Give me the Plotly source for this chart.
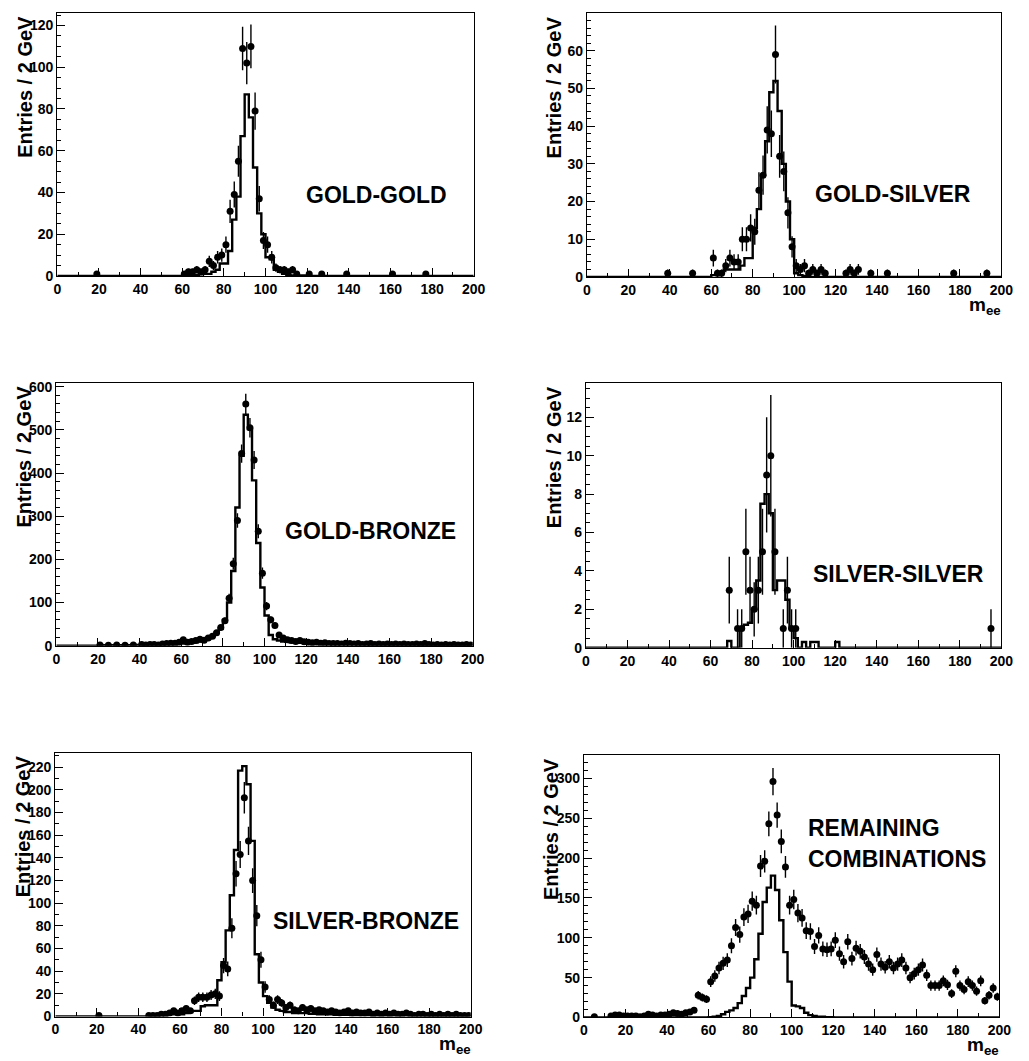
import math
import plotly.graph_objects as go

W, H = 1029, 1061
PAGE_OFFSET = 8  # default body margin of the html page

# 2 GeV bins from 0 to 200 GeV
bin_edges = list(range(0, 202, 2))
bin_centers = [e + 1 for e in bin_edges[:-1]]

# ---------------- GOLD-GOLD ----------------
gg_data = [
    0, 0, 0, 0, 0, 0, 0, 0, 0, 1,
    0, 0, 0, 0, 0, 0, 0, 0, 0, 0,
    0, 0, 0, 0, 0, 0, 0, 0, 0, 0,
    1, 2, 2, 3, 2, 3, 7, 5, 9, 10,
    15, 31, 39, 55, 109, 102, 110, 79, 37, 17,
    15, 9, 4, 3, 3, 2, 3, 1, 0, 0,
    1, 0, 0, 1, 0, 0, 0, 0, 0, 1,
    0, 0, 0, 0, 0, 0, 0, 0, 0, 0,
    1, 0, 0, 0, 0, 0, 0, 0, 1, 0,
    0, 0, 0, 0, 0, 0, 0, 0, 0, 0,
]
gg_mc = [
    0, 0, 0, 0, 0, 0, 0, 0, 0, 0,
    0, 0, 0, 0, 0, 0, 0, 0, 0, 0,
    0, 0, 0, 0, 0, 0, 0, 0, 0, 0,
    0.3, 0.3, 0.5, 0.5, 0.8, 1, 1, 2, 3, 6,
    6, 12, 27, 38, 67, 87, 76, 52, 30, 20,
    9, 8, 3, 2, 1, 0.5, 0.3, 0.3, 0.2, 0.2,
    0, 0, 0, 0, 0, 0, 0, 0, 0, 0,
    0, 0, 0, 0, 0, 0, 0, 0, 0, 0,
    0, 0, 0, 0, 0, 0, 0, 0, 0, 0,
    0, 0, 0, 0, 0, 0, 0, 0, 0, 0,
]

# ---------------- GOLD-SILVER ----------------
gs_data = [
    0, 0, 0, 0, 0, 0, 0, 0, 0, 0,
    0, 0, 0, 0, 0, 0, 0, 0, 0, 1,
    0, 0, 0, 0, 0, 1, 0, 0, 0, 0,
    5, 1, 1, 3, 5, 4, 4, 10, 10, 13,
    12, 23, 27, 39, 38, 59, 32, 28, 17, 8,
    3, 2, 3, 1, 2, 1, 2, 1, 0, 0,
    0, 0, 1, 2, 1, 2, 0, 0, 1, 0,
    0, 0, 1, 0, 0, 0, 0, 0, 0, 0,
    0, 0, 0, 0, 0, 0, 0, 0, 1, 0,
    0, 0, 0, 0, 0, 0, 1, 0, 0, 0,
]
gs_mc = [
    0, 0, 0, 0, 0, 0, 0, 0, 0, 0,
    0, 0, 0, 0, 0, 0, 0, 0, 0, 0,
    0, 0, 0, 0, 0, 0, 0, 0, 0, 0,
    0.5, 0.5, 1, 2, 2, 2, 2, 3, 5, 5,
    13, 18, 27, 36, 49, 52, 44, 30, 20, 10,
    1, 0.5, 0.3, 0, 0, 0, 0, 0, 0, 0,
    0, 0, 0, 0, 0, 0, 0, 0, 0, 0,
    0, 0, 0, 0, 0, 0, 0, 0, 0, 0,
    0, 0, 0, 0, 0, 0, 0, 0, 0, 0,
    0, 0, 0, 0, 0, 0, 0, 0, 0, 0,
]

# ---------------- GOLD-BRONZE ----------------
gb_data = [
    0, 0, 0, 0, 0, 0, 0, 0, 0, 0,
    2, 0, 1, 0, 2, 0, 1, 0, 2, 0,
    3, 2, 3, 3, 2, 4, 5, 6, 6, 8,
    14, 8, 10, 12, 15, 13, 18, 22, 30, 42,
    58, 110, 190, 290, 445, 560, 505, 430, 265, 168,
    92, 60, 47, 25, 18, 14, 12, 10, 12, 9,
    8, 7, 8, 6, 7, 5, 5, 5, 4, 6,
    5, 4, 5, 3, 4, 5, 3, 4, 3, 4,
    3, 4, 3, 4, 3, 3, 4, 3, 5, 3,
    2, 3, 2, 3, 2, 3, 2, 2, 3, 2,
]
gb_mc = [
    0, 0, 0, 0, 0, 0, 0, 0, 0, 0,
    1, 1, 1, 1, 1, 1.5, 1.5, 1.5, 2, 2,
    2, 2, 2.5, 2.5, 3, 3, 3.5, 4, 4, 5,
    5, 6, 7, 8, 10, 13, 17, 22, 30, 40,
    60, 100, 173, 320, 440, 535, 502, 383, 238, 135,
    70, 25, 15, 12, 10, 9, 8, 8, 7, 7,
    6, 6, 5, 5, 5, 5, 4, 4, 4, 4,
    4, 4, 3.5, 3.5, 3.5, 3, 3, 3, 3, 3,
    3, 3, 2.5, 2.5, 2.5, 2.5, 2.5, 2, 2, 2,
    2, 2, 2, 2, 2, 2, 2, 2, 2, 2,
]

# ---------------- SILVER-SILVER ----------------
ss_data = [
    0, 0, 0, 0, 0, 0, 0, 0, 0, 0,
    0, 0, 0, 0, 0, 0, 0, 0, 0, 0,
    0, 0, 0, 0, 0, 0, 0, 0, 0, 0,
    0, 0, 0, 0, 3, 0, 1, 1, 5, 3,
    2, 3, 5, 9, 10, 5, 0, 1, 3, 1,
    1, 0, 0, 0, 0, 0, 0, 0, 0, 0,
    0, 0, 0, 0, 0, 0, 0, 0, 0, 0,
    0, 0, 0, 0, 0, 0, 0, 0, 0, 0,
    0, 0, 0, 0, 0, 0, 0, 0, 0, 0,
    0, 0, 0, 0, 0, 0, 0, 1, 0, 0,
]
ss_mc = [
    0, 0, 0, 0, 0, 0, 0, 0, 0, 0,
    0, 0, 0, 0, 0, 0, 0, 0, 0, 0,
    0, 0, 0, 0, 0, 0, 0, 0, 0, 0,
    0, 0, 0, 0, 0.35, 0, 0, 1, 1.2, 1.3,
    2, 3.5, 7.5, 8, 7, 3, 3.5, 3.5, 2.5, 1,
    0.5, 0, 0.3, 0, 0.3, 0.3, 0, 0, 0, 0,
    0.3, 0, 0, 0, 0, 0, 0, 0, 0, 0,
    0, 0, 0, 0, 0, 0, 0, 0, 0, 0,
    0, 0, 0, 0, 0, 0, 0, 0, 0, 0,
    0, 0, 0, 0, 0, 0, 0, 0, 0, 0,
]

# ---------------- SILVER-BRONZE ----------------
sb_data = [
    0, 0, 0, 0, 0, 0, 0, 0, 0, 0,
    1, 0, 0, 0, 0, 0, 0, 0, 0, 0,
    0, 0, 1, 1, 1, 2, 2, 3, 5, 3,
    5, 7, 5, 14, 17, 17, 17, 19, 20, 18,
    45, 42, 78, 126, 143, 193, 155, 120, 89, 50,
    26, 15, 10, 15, 12, 8, 10, 6, 5, 8,
    6, 7, 5, 6, 5, 4, 5, 4, 3, 4,
    5, 3, 4, 3, 3, 4, 2, 3, 2, 3,
    2, 3, 2, 2, 3, 2, 1, 2, 2, 1,
    2, 1, 2, 1, 2, 1, 2, 1, 1, 1,
]
sb_mc = [
    0, 0, 0, 0, 0, 0, 0, 0, 0, 0,
    0, 0, 0, 0, 0, 0, 0, 0, 0, 0,
    0, 0, 0, 0, 0.5, 1, 1, 2, 2, 3,
    2, 3, 4, 5, 5, 9, 10, 10, 10, 32,
    48, 76, 107, 147, 217, 221, 205, 155, 55, 30,
    18, 12, 8, 6, 5, 4, 4, 3, 3, 3,
    3, 2.5, 2.5, 2, 2, 2, 2, 1.5, 1.5, 1.5,
    1.5, 1, 1, 1, 1, 1, 1, 1, 1, 1,
    1, 1, 1, 1, 1, 0.8, 0.8, 0.8, 0.8, 0.8,
    0.5, 0.5, 0.5, 0.5, 0.5, 0.5, 0.5, 0.5, 0.5, 0.5,
]

# ---------------- REMAINING COMBINATIONS ----------------
rc_data = [
    0, 0, 1, 0, 0, 0, 2, 3, 3, 2,
    2, 2, 2, 1, 2, 4, 3, 2, 3, 3,
    4, 6, 5, 4, 6, 7, 9, 28, 25, 23,
    45, 52, 62, 68, 72, 90, 113, 104, 126, 130,
    146, 141, 190, 196, 243, 296, 254, 221, 189, 141,
    148, 131, 125, 109, 108, 89, 103, 86, 85, 86,
    97, 80, 70, 95, 74, 87, 83, 76, 67, 60,
    79, 67, 63, 70, 62, 67, 72, 62, 50, 55,
    60, 66, 53, 40, 40, 40, 46, 41, 30, 58,
    40, 35, 45, 40, 33, 46, 21, 28, 37, 26,
]
rc_mc = [
    0, 0, 0, 0, 0, 0, 0, 0, 0, 0,
    0, 0, 0, 0, 0, 0, 0, 0, 0, 0,
    0, 0, 0, 0, 0, 0, 0, 0, 0, 0,
    0.5, 1, 2, 4, 7, 9, 12, 18, 27, 37,
    50, 73, 105, 145, 163, 178, 160, 122, 82, 45,
    15, 14, 12, 6, 3, 2, 1, 1, 0.5, 0.5,
    0, 0, 0, 0, 0, 0, 0, 0, 0, 0,
    0, 0, 0, 0, 0, 0, 0, 0, 0, 0,
    0, 0, 0, 0, 0, 0, 0, 0, 0, 0,
    0, 0, 0, 0, 0, 0, 0, 0, 0, 0,
]

y_title = "Entries / 2 GeV"
x_title = "m<sub>ee</sub>"

# layout (page pixel coordinates: left, right, top, bottom of each frame)
panels = [
    dict(label=["GOLD-GOLD"], data=gg_data, mc=gg_mc, ymax=126, dtick=20, minor=5,
         box=(54, 477, 9, 275), lab_pos=(378, 193), lab_anchor="center", show_x=False),
    dict(label=["GOLD-SILVER"], data=gs_data, mc=gs_mc, ymax=70, dtick=10, minor=2,
         box=(592, 1013, 9, 276), lab_pos=(903, 192), lab_anchor="center", show_x=True),
    dict(label=["GOLD-BRONZE"], data=gb_data, mc=gb_mc, ymax=609, dtick=100, minor=20,
         box=(53, 476, 383, 649), lab_pos=(372, 533), lab_anchor="center", show_x=False),
    dict(label=["SILVER-SILVER"], data=ss_data, mc=ss_mc, ymax=13.8, dtick=2, minor=0.5,
         box=(591, 1013, 383, 651), lab_pos=(909, 576), lab_anchor="center", show_x=False),
    dict(label=["SILVER-BRONZE"], data=sb_data, mc=sb_mc, ymax=233, dtick=20, minor=10,
         box=(52, 474, 757, 1024), lab_pos=(368, 927), lab_anchor="center", show_x=True),
    dict(label=["REMAINING", "COMBINATIONS"], data=rc_data, mc=rc_mc, ymax=330, dtick=50, minor=10,
         box=(589, 1011, 759, 1025), lab_pos=(815, 833), lab_anchor="left", show_x=True),
]

def fx(px):
    return (px - PAGE_OFFSET) / W

def fy(py):
    return 1 - (py - PAGE_OFFSET) / H

FONT = "Liberation Sans, Arial, Helvetica, sans-serif"
fig = go.Figure()
annotations = []

for i, p in enumerate(panels):
    n = i + 1
    xa = "x" if n == 1 else f"x{n}"
    ya = "y" if n == 1 else f"y{n}"
    x0, x1, y0, y1 = p["box"]

    # histogram (step line)
    fig.add_trace(go.Scatter(
        x=bin_edges, y=p["mc"] + [p["mc"][-1]],
        mode="lines", line=dict(color="black", width=2.4, shape="hv"),
        xaxis=xa, yaxis=ya, showlegend=False, hoverinfo="skip"))

    # data points with Poisson error bars
    px_ = [c for c, v in zip(bin_centers, p["data"]) if v > 0]
    py_ = [v for v in p["data"] if v > 0]
    pe_ = [math.sqrt(v) for v in py_]
    fig.add_trace(go.Scatter(
        x=px_, y=py_, mode="markers",
        marker=dict(color="black", size=7, symbol="circle"),
        error_y=dict(type="data", array=pe_, color="black", thickness=1.4, width=0),
        xaxis=xa, yaxis=ya, showlegend=False))

    axis_common = dict(
        showline=True, linecolor="black", linewidth=1.2, mirror=True,
        showgrid=False, zeroline=False, ticks="inside", tickcolor="black",
        tickwidth=1, ticklen=8,
        tickfont=dict(family=FONT, size=14, color="black", weight="bold"),
    )
    fig.layout[f"xaxis{'' if n == 1 else n}"] = dict(
        axis_common, domain=[fx(x0), fx(x1)], anchor=ya, range=[0, 200],
        tick0=0, dtick=20,
        minor=dict(ticks="inside", ticklen=4, dtick=10, tickcolor="black", showgrid=False))
    fig.layout[f"yaxis{'' if n == 1 else n}"] = dict(
        axis_common, domain=[fy(y1), fy(y0)], anchor=xa, range=[0, p["ymax"]],
        tick0=0, dtick=p["dtick"], ticklen=8,
        minor=dict(ticks="inside", ticklen=4, dtick=p["minor"], tickcolor="black", showgrid=False))

    # y axis title
    annotations.append(dict(
        text=y_title, xref="paper", yref="paper",
        x=fx(x0 - 33), y=fy(y0 + 1), xanchor="center", yanchor="top",
        textangle=-90, showarrow=False,
        font=dict(family=FONT, size=20, color="black", weight="bold")))

    # x axis title
    if p["show_x"]:
        annotations.append(dict(
            text=x_title, xref="paper", yref="paper",
            x=fx(x1 + 1), y=fy(y1 + 16), xanchor="right", yanchor="top",
            showarrow=False, borderpad=0,
            font=dict(family=FONT, size=19, color="black", weight="bold")))

    # panel label
    lx, ly = p["lab_pos"]
    for k, line in enumerate(p["label"]):
        annotations.append(dict(
            text=line, xref="paper", yref="paper",
            x=fx(lx), y=fy(ly + 32 * k), xanchor=p["lab_anchor"], yanchor="middle",
            showarrow=False,
            font=dict(family=FONT, size=23, color="black", weight="bold")))

fig.update_layout(
    width=W, height=H, margin=dict(l=0, r=0, t=0, b=0),
    paper_bgcolor="white", plot_bgcolor="white",
    annotations=annotations, showlegend=False,
)

fig.write_html("out.html")
